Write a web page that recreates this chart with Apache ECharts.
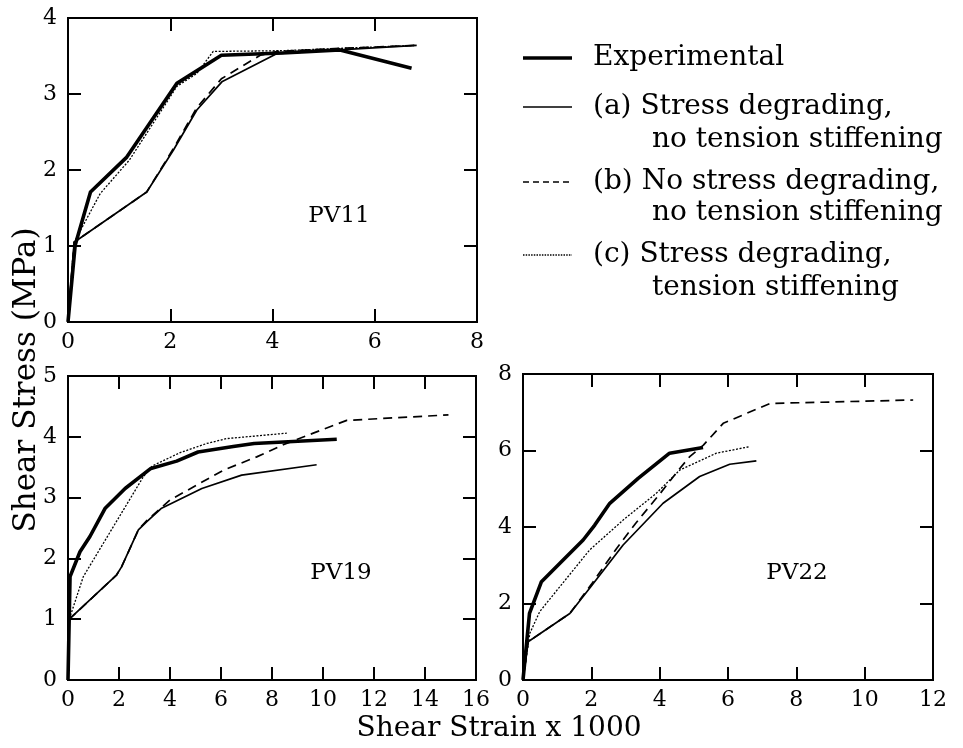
<!DOCTYPE html>
<html>
<head>
<meta charset="utf-8">
<script src="https://cdn.jsdelivr.net/npm/echarts@6.0.0/dist/echarts.min.js"></script>
<style>html,body{margin:0;padding:0;background:#fff}#c{width:963px;height:748px}</style>
</head>
<body>
<div id="c"></div>
<script>
// ---- data (strain x1000, shear stress MPa) ----
const pv11Exp = [[0,0],[0.14,1.01],[0.44,1.71],[1.15,2.17],[2.13,3.14],[3.0,3.51],[4.2,3.54],[5.32,3.58],[6.72,3.34]];
const pv11A   = [[0,0],[0.12,1.05],[1.54,1.71],[2.06,2.26],[2.52,2.79],[3.01,3.16],[4.08,3.53],[5.3,3.58],[6.82,3.64]];
const pv11B   = [[0,0],[0.12,1.05],[1.54,1.71],[2.06,2.28],[2.52,2.82],[3.0,3.2],[3.76,3.51],[4.1,3.56],[5.3,3.6],[6.82,3.64]];
const pv11C   = [[0,0],[0.12,1.05],[0.63,1.69],[1.2,2.13],[2.13,3.1],[2.52,3.27],[2.84,3.56],[4.2,3.57],[5.3,3.6],[6.82,3.64]];

const pv19Exp = [[0,0],[0.08,1.70],[0.47,2.11],[0.86,2.36],[1.45,2.82],[2.24,3.15],[3.25,3.48],[4.26,3.6],[5.1,3.75],[6.48,3.84],[7.3,3.89],[10.54,3.96]];
const pv19A   = [[0,0],[0.05,1.0],[1.91,1.73],[2.1,1.86],[2.76,2.47],[3.08,2.6],[3.65,2.82],[5.25,3.15],[6.81,3.37],[9.75,3.54]];
const pv19B   = [[0,0],[0.05,1.0],[1.91,1.73],[2.1,1.86],[2.76,2.47],[3.08,2.62],[4.0,2.96],[6.09,3.45],[7.4,3.67],[8.44,3.87],[9.62,4.06],[10.93,4.27],[14.92,4.36]];
const pv19C   = [[0,0],[0.05,1.0],[0.6,1.70],[2.95,3.34],[3.3,3.52],[4.4,3.74],[5.44,3.89],[6.22,3.97],[8.58,4.06]];

const pv22Exp = [[0,0],[0.19,1.74],[0.54,2.57],[1.08,3.05],[1.76,3.66],[2.1,4.05],[2.54,4.62],[3.37,5.27],[4.29,5.93],[5.27,6.08]];
const pv22A   = [[0,0],[0.15,1.0],[1.37,1.74],[1.95,2.40],[2.93,3.53],[4.1,4.62],[5.17,5.32],[6.05,5.64],[6.83,5.73]];
const pv22B   = [[0,0],[0.15,1.0],[1.37,1.74],[2.0,2.5],[2.74,3.44],[3.3,4.1],[4.0,4.86],[4.59,5.53],[4.88,5.84],[5.28,6.14],[5.86,6.71],[7.23,7.23],[11.42,7.32]];
const pv22C   = [[0,0],[0.2,1.22],[0.49,1.79],[1.95,3.40],[2.93,4.18],[3.9,4.88],[4.59,5.49],[5.66,5.93],[6.63,6.1]];

// axis ranges [min, max, interval]
const pv11X = [0, 8, 2],  pv11Y = [0, 4, 1];
const pv19X = [0, 16, 2], pv19Y = [0, 5, 1];
const pv22X = [0, 12, 2], pv22Y = [0, 8, 2];

const panelNames = ['PV11', 'PV19', 'PV22'];
const legendLabels = [
  ['Experimental'],
  ['(a) Stress degrading,', 'no tension stiffening'],
  ['(b) No stress degrading,', 'no tension stiffening'],
  ['(c) Stress degrading,', 'tension stiffening']
];
const xTitle = 'Shear Strain x 1000';
const yTitle = 'Shear Stress (MPa)';

// ---- styles ----
const FONT = 'DejaVu Serif';
const styles = {
  exp: {color:'#000', width:3.6, type:'solid'},
  a:   {color:'#000', width:1.7, type:'solid'},
  b:   {color:'#000', width:1.7, type:[9,6]},
  c:   {color:'#000', width:1.3, type:[2,1.6]}
};

const grids = [
  {left:68, top:18, width:409, height:304},
  {left:68, top:376, width:408, height:304},
  {left:523, top:374, width:410, height:306}
];

const tickStyle = {show:true, inside:true, length:13, lineStyle:{color:'#000', width:2}};

function xAxes(gi, r) {
  const base = {type:'value', gridIndex:gi, min:r[0], max:r[1], interval:r[2],
    splitLine:{show:false}, axisLine:{show:false, onZero:false}, axisTick:tickStyle};
  return [
    Object.assign({}, base, {position:'bottom',
      axisLabel:{show:true, margin:9, color:'#000', fontFamily:FONT, fontSize:22}}),
    Object.assign({}, base, {position:'top', axisLabel:{show:false}})
  ];
}
function yAxes(gi, r) {
  const base = {type:'value', gridIndex:gi, min:r[0], max:r[1], interval:r[2],
    splitLine:{show:false}, axisLine:{show:false, onZero:false}, axisTick:tickStyle};
  return [
    Object.assign({}, base, {position:'left',
      axisLabel:{show:true, margin:11, color:'#000', fontFamily:FONT, fontSize:22}}),
    Object.assign({}, base, {position:'right', axisLabel:{show:false}})
  ];
}

const panels = [
  {x:pv11X, y:pv11Y, d:{c:pv11C, b:pv11B, a:pv11A, exp:pv11Exp}},
  {x:pv19X, y:pv19Y, d:{c:pv19C, b:pv19B, a:pv19A, exp:pv19Exp}},
  {x:pv22X, y:pv22Y, d:{c:pv22C, b:pv22B, a:pv22A, exp:pv22Exp}}
];

let xA = [], yA = [], series = [];
panels.forEach((p, i) => {
  xA = xA.concat(xAxes(i, p.x));
  yA = yA.concat(yAxes(i, p.y));
  ['c','b','a','exp'].forEach(k => {
    series.push({
      type:'line', xAxisIndex:2*i, yAxisIndex:2*i, data:p.d[k],
      symbol:'none', smooth:false, silent:true,
      lineStyle:{color:styles[k].color, width:styles[k].width, type:styles[k].type, join:'round', cap:'butt'},
      z: k === 'exp' ? 5 : 3
    });
  });
});

// ---- graphic: legend, panel labels, axis titles ----
const graphic = [];
const legY = [58, 107, 182, 255];
const legY2 = [null, 140, 213, 288];
const legKeys = ['exp','a','b','c'];
const LEGFONT = '28px "' + FONT + '"';
legKeys.forEach((k, i) => {
  const s = styles[k];
  graphic.push({type:'line', shape:{x1:523, y1:legY[i], x2:572, y2:legY[i]},
    style:{stroke:'#000', lineWidth:s.width, lineDash: Array.isArray(s.type) ? (k==='b' ? [6,4] : [1.5,1.2]) : null}});
  graphic.push({type:'text', x:593, y:legY[i],
    style:{text:legendLabels[i][0], fill:'#000', font:LEGFONT, align:'left', verticalAlign:'middle'}});
  if (legendLabels[i][1]) {
    graphic.push({type:'text', x:652, y:legY2[i],
      style:{text:legendLabels[i][1], fill:'#000', font:LEGFONT, align:'left', verticalAlign:'middle'}});
  }
});
const panelPos = [[339, 216], [341, 573], [797, 573]];
panelNames.forEach((n, i) => {
  graphic.push({type:'text', x:panelPos[i][0], y:panelPos[i][1],
    style:{text:n, fill:'#000', font:'23px "' + FONT + '"', align:'center', verticalAlign:'middle'}});
});
graphic.push({type:'text', x:499, y:729,
  style:{text:xTitle, fill:'#000', font:'28px "' + FONT + '"', align:'center', verticalAlign:'middle'}});
graphic.push({type:'text', x:27, y:380, rotation:Math.PI/2,
  style:{text:yTitle, fill:'#000', font:'31px "' + FONT + '"', align:'center', verticalAlign:'middle'}});

const chart = echarts.init(document.getElementById('c'), null, {renderer:'canvas'});
chart.setOption({
  animation:false,
  backgroundColor:'#fff',
  grid: grids.map(g => Object.assign({show:true, borderColor:'#000', borderWidth:2, backgroundColor:'transparent'}, g)),
  xAxis: xA,
  yAxis: yA,
  series: series,
  graphic: graphic
});
</script>
</body>
</html>
